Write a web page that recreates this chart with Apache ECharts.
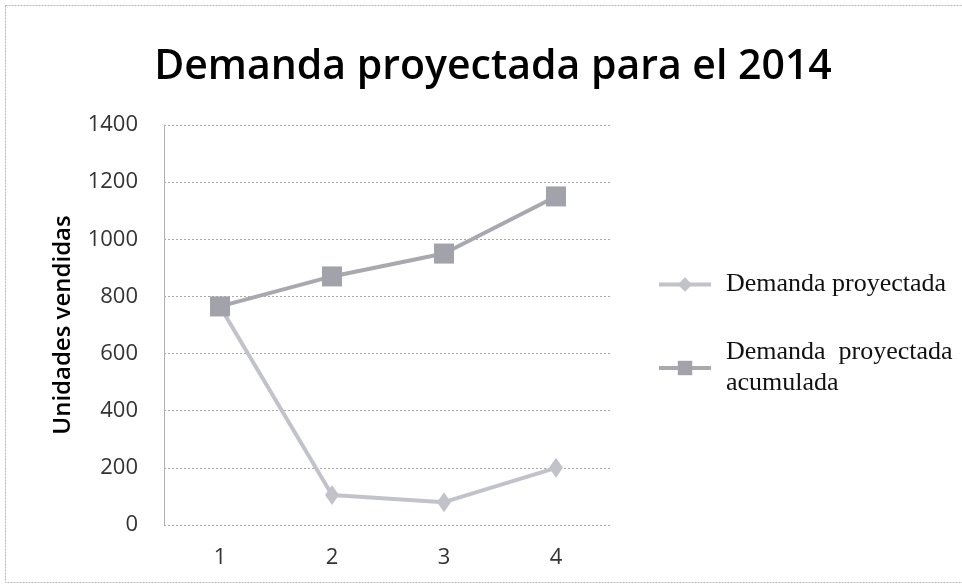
<!DOCTYPE html>
<html>
<head>
<meta charset="utf-8">
<script src="https://cdn.jsdelivr.net/npm/echarts@6/dist/echarts.min.js"></script>
<style>
  html, body { margin: 0; padding: 0; background: #fff; }
  #chart { width: 962px; height: 587px; }
</style>
</head>
<body>
<div id="chart"></div>
<script>
// Periods of 2014 and projected demand per period
const periods = ['1', '2', '3', '4'];
const demanda = [765, 105, 80, 200];
const acumulada = [765, 870, 950, 1150];
const yTicks = { min: 0, max: 1400, interval: 200 };

const chart = echarts.init(document.getElementById('chart'), null, { renderer: 'canvas' });

const sans = '"Open Sans", "Noto Sans", sans-serif';
const serif = '"Liberation Serif", "DejaVu Serif", serif';

chart.setOption({
  backgroundColor: '#ffffff',
  animation: false,
  title: {
    text: 'Demanda proyectada para el 2014',
    left: 488,
    textAlign: 'center',
    top: 42,
    textStyle: { fontFamily: sans, fontSize: 41, fontWeight: 600, color: '#000' }
  },
  graphic: [{
    type: 'rect',
    shape: { x: 5.5, y: 5.5, width: 960, height: 577 },
    style: { fill: 'none', stroke: '#b8b8b8', lineWidth: 1, lineDash: [2, 1] },
    silent: true
  }],
  legend: {
    orient: 'vertical',
    left: 652,
    top: 264,
    itemWidth: 52,
    itemHeight: 18,
    itemGap: 37,
    lineStyle: { width: 4 },
    data: ['Demanda proyectada', 'Demanda proyectada acumulada'],
    formatter: function (n) {
      return n === 'Demanda proyectada acumulada' ? 'Demanda  proyectada\nacumulada' : n;
    },
    textStyle: { fontFamily: serif, fontSize: 26, color: '#111', lineHeight: 31, padding: [0, 0, 0, 10] }
  },
  grid: { left: 164, right: 350, top: 125, bottom: 62 },
  xAxis: {
    type: 'category',
    data: periods,
    boundaryGap: true,
    axisLine: { show: false },
    axisTick: { show: false },
    axisLabel: { fontFamily: sans, fontSize: 22, color: '#333', margin: 22 }
  },
  yAxis: {
    type: 'value',
    min: yTicks.min,
    max: yTicks.max,
    interval: yTicks.interval,
    name: 'Unidades vendidas',
    nameLocation: 'middle',
    nameGap: 89,
    nameRotate: 90,
    nameTextStyle: { fontFamily: sans, fontSize: 24, fontWeight: 600, color: '#000' },
    axisLine: { show: true, lineStyle: { color: '#b0b0b0', width: 1 } },
    axisTick: { show: false },
    axisLabel: {
      fontFamily: sans, fontSize: 22, color: '#333', margin: 26,
      formatter: function (v) { return String(v); }
    },
    splitLine: { show: true, lineStyle: { color: '#a8a8a8', type: [2, 2], width: 1 } }
  },
  series: [
    {
      name: 'Demanda proyectada',
      type: 'line',
      data: demanda,
      symbol: 'diamond',
      symbolSize: [14, 20],
      lineStyle: { color: '#c2c2ca', width: 4 },
      itemStyle: { color: '#c2c2ca' },
      z: 3
    },
    {
      name: 'Demanda proyectada acumulada',
      type: 'line',
      data: acumulada,
      symbol: 'rect',
      symbolSize: 20,
      lineStyle: { color: '#a8a8ae', width: 4 },
      itemStyle: { color: '#a2a2aa' },
      z: 4
    }
  ]
});
</script>
</body>
</html>
